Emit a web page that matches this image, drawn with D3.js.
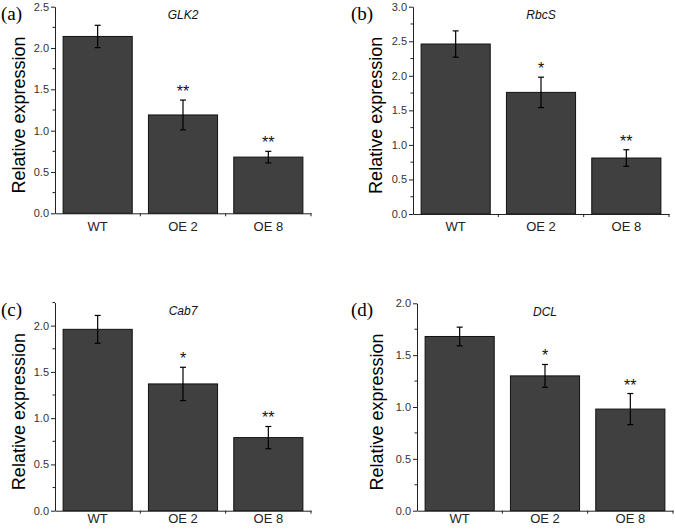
<!DOCTYPE html>
<html>
<head>
<meta charset="utf-8">
<script src="https://cdn.jsdelivr.net/npm/d3@7"></script>
<style>
  body { margin: 0; background: #fff; }
  svg { display: block; }
</style>
</head>
<body>
<svg id="chart" width="675" height="530"></svg>
<script>
// ---- data ----
const categories = ["WT", "OE 2", "OE 8"];
const genes = ["GLK2", "RbcS", "Cab7", "DCL"];
const panelLabels = ["(a)", "(b)", "(c)", "(d)"];
const glk2Values = [2.14, 1.19, 0.68];
const glk2Errors = [0.135, 0.18, 0.07];
const rbcsValues = [2.46, 1.76, 0.81];
const rbcsErrors = [0.19, 0.22, 0.12];
const cab7Values = [1.96, 1.37, 0.79];
const cab7Errors = [0.15, 0.18, 0.12];
const dclValues = [1.68, 1.30, 0.98];
const dclErrors = [0.09, 0.11, 0.15];
const glk2Marks = ["", "**", "**"];
const rbcsMarks = ["", "*", "**"];
const cab7Marks = ["", "*", "**"];
const dclMarks = ["", "*", "**"];
const yMaxima = [2.5, 3.0, 2.25, 2.0];
const yTickValues = [
  [0, 0.5, 1.0, 1.5, 2.0, 2.5],
  [0, 0.5, 1.0, 1.5, 2.0, 2.5, 3.0],
  [0, 0.5, 1.0, 1.5, 2.0],
  [0, 0.5, 1.0, 1.5, 2.0]
];
const yAxisTitle = "Relative expression";

const valuesList = [glk2Values, rbcsValues, cab7Values, dclValues];
const errorsList = [glk2Errors, rbcsErrors, cab7Errors, dclErrors];
const marksList = [glk2Marks, rbcsMarks, cab7Marks, dclMarks];

// ---- layout (pixel positions) ----
const layouts = [
  { x0: 55,  bottom: 213.3, top: 6.7,   titleX: 20,  labelPad: 8 },
  { x0: 413, bottom: 214,   top: 6.7,   titleX: 377, labelPad: 8 },
  { x0: 55,  bottom: 510.7, top: 302.5, titleX: 20,  labelPad: 3 },
  { x0: 417, bottom: 510.7, top: 303.3, titleX: 378, labelPad: 3 }
];
const plotWidth = 256;

const svg = d3.select("#chart");

genes.forEach((gene, i) => {
  const L = layouts[i];
  const vals = valuesList[i], errs = errorsList[i], marks = marksList[i];
  const g = svg.append("g");

  const x = d3.scaleBand().domain(categories)
    .range([L.x0, L.x0 + plotWidth]).paddingInner(0.19).paddingOuter(0.095);
  const y = d3.scaleLinear().domain([0, yMaxima[i]]).range([L.bottom, L.top]);

  // bars
  g.selectAll("rect.bar").data(categories).enter().append("rect")
    .attr("class", "bar")
    .attr("x", d => x(d))
    .attr("width", x.bandwidth())
    .attr("y", (d, j) => y(vals[j]))
    .attr("height", (d, j) => y(0) - y(vals[j]))
    .attr("fill", "#404040")
    .attr("stroke", "#111")
    .attr("stroke-width", 1);

  // error bars
  const eb = g.selectAll("g.err").data(categories).enter().append("g").attr("class", "err");
  eb.append("line")
    .attr("x1", d => x(d) + x.bandwidth() / 2)
    .attr("x2", d => x(d) + x.bandwidth() / 2)
    .attr("y1", (d, j) => y(vals[j] + errs[j]))
    .attr("y2", (d, j) => y(vals[j] - errs[j]))
    .attr("stroke", "#000").attr("stroke-width", 1.2);
  [1, -1].forEach(s => {
    eb.append("line")
      .attr("x1", d => x(d) + x.bandwidth() / 2 - 3)
      .attr("x2", d => x(d) + x.bandwidth() / 2 + 3)
      .attr("y1", (d, j) => y(vals[j] + s * errs[j]))
      .attr("y2", (d, j) => y(vals[j] + s * errs[j]))
      .attr("stroke", "#000").attr("stroke-width", 1.2);
  });

  // significance marks
  g.selectAll("text.sig").data(categories).enter().append("text")
    .attr("class", "sig")
    .attr("x", d => x(d) + x.bandwidth() / 2)
    .attr("y", (d, j) => y(vals[j] + errs[j]) - 3)
    .attr("text-anchor", "middle")
    .attr("font-family", "Liberation Sans, Arial, sans-serif")
    .attr("font-size", 16)
    .attr("fill", "#111")
    .text((d, j) => marks[j]);

  // y axis
  const yMinor = d3.range(0, yMaxima[i] + 1e-9, 0.25);
  const yAxisG = g.append("g").attr("transform", `translate(${L.x0},0)`);
  yAxisG.call(d3.axisLeft(y).tickValues(yTickValues[i]).tickFormat(d3.format(".1f"))
      .tickSize(4).tickSizeOuter(0))
    .call(a => a.select(".domain").attr("stroke", "#222").attr("stroke-width", 1))
    .call(a => a.selectAll(".tick line").attr("stroke", "#222"))
    .call(a => a.selectAll("text").attr("font-family", "Liberation Sans, Arial, sans-serif")
      .attr("font-size", 11).attr("fill", "#333").attr("x", -6));
  yAxisG.selectAll("line.minor").data(yMinor.filter(v => !yTickValues[i].some(t => Math.abs(t - v) < 1e-9)))
    .enter().append("line").attr("class", "minor")
    .attr("x1", -2.5).attr("x2", 0)
    .attr("y1", d => y(d)).attr("y2", d => y(d))
    .attr("stroke", "#222");

  // x axis
  const xAxisG = g.append("g").attr("transform", `translate(0,${L.bottom})`);
  xAxisG.call(d3.axisBottom(x).tickSize(0).tickSizeOuter(0).tickPadding(L.labelPad))
    .call(a => a.select(".domain").attr("stroke", "#222").attr("stroke-width", 1))
    .call(a => a.selectAll("text").attr("font-family", "Liberation Sans, Arial, sans-serif")
      .attr("font-size", 13).attr("fill", "#222"));
  const boundaries = categories.slice(1).map(c => x(c) - x.step() * x.paddingInner() / 2);
  boundaries.push(L.x0 + plotWidth);
  xAxisG.selectAll("line.btick").data(boundaries).enter().append("line")
    .attr("class", "btick")
    .attr("x1", d => d).attr("x2", d => d)
    .attr("y1", 0).attr("y2", 3)
    .attr("stroke", "#222");

  // y axis title
  const midY = (L.top + L.bottom) / 2;
  g.append("text")
    .attr("transform", `translate(${L.titleX},${midY + 5}) rotate(-90)`)
    .attr("text-anchor", "middle")
    .attr("dominant-baseline", "middle")
    .attr("font-family", "Liberation Sans, Arial, sans-serif")
    .attr("font-size", 18)
    .attr("fill", "#000")
    .text(yAxisTitle);

  // gene title
  g.append("text")
    .attr("x", L.x0 + plotWidth / 2)
    .attr("y", L.top + 12.5)
    .attr("text-anchor", "middle")
    .attr("font-family", "Liberation Sans, Arial, sans-serif")
    .attr("font-style", "italic")
    .attr("font-size", 12)
    .attr("fill", "#111")
    .text(gene);

  // panel label
  g.append("text")
    .attr("x", i % 2 === 0 ? 1 : 351)
    .attr("y", L.top + 13)
    .attr("font-family", "Liberation Serif, Times New Roman, serif")
    .attr("font-size", 19)
    .attr("fill", "#000")
    .text(panelLabels[i]);
});
</script>
</body>
</html>
